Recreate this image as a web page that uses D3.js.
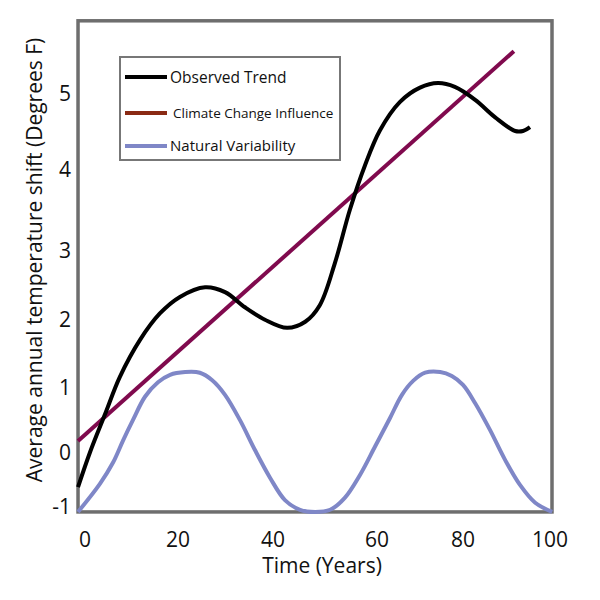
<!DOCTYPE html>
<html>
<head>
<meta charset="utf-8">
<script src="https://cdn.jsdelivr.net/npm/d3@7/dist/d3.min.js"></script>
<style>
  html, body { margin: 0; padding: 0; background: #fff; }
  svg { display: block; }
  text { font-family: "Open Sans", "DejaVu Sans", sans-serif; fill: #111; }
</style>
</head>
<body>
<script>
// ---- tick labels ----
const xTicks = [0, 20, 40, 60, 80, 100];
const yTicks = [-1, 0, 1, 2, 3, 4, 5];

// ---- series (years, degrees F) ----
const observedX = [-1.5, 1.1, 4.3, 7.5, 11.8, 16.1, 20.4, 25.7, 29.9, 34.1, 38.3, 42.7, 46.2, 49.0, 51.9, 54.8, 57.7, 60.7, 65.3, 70.0, 74.2, 78.1, 82.8, 87.4, 92.0, 93.8, 95.4];
const observedY = [-0.65, 0.00, 0.58, 1.15, 1.69, 2.08, 2.32, 2.46, 2.39, 2.17, 1.99, 1.87, 1.96, 2.20, 2.81, 3.50, 4.05, 4.51, 4.88, 5.07, 5.13, 5.08, 4.91, 4.68, 4.50, 4.50, 4.55];

const climateX = [-1.5, 91.7];
const climateY = [0.17, 5.55];

const naturalX = [-1.5, 3.2, 6.0, 8.2, 10.3, 12.9, 15.7, 18.3, 21.5, 24.6, 27.2, 29.9, 33.05, 36.2, 39.4, 42.3, 45.2, 48.1, 51.0, 53.8, 56.7, 59.6, 63.0, 65.8, 68.4, 71.2, 74.7, 77.4, 80.0, 82.8, 86.2, 89.7, 93.1, 96.6, 100.5];
const naturalY = [-1.11, -0.59, -0.20, 0.18, 0.49, 0.85, 1.07, 1.18, 1.22, 1.21, 1.10, 0.88, 0.49, 0.03, -0.48, -0.89, -1.07, -1.11, -1.07, -0.85, -0.43, 0.08, 0.52, 0.88, 1.09, 1.21, 1.22, 1.16, 1.03, 0.75, 0.34, -0.15, -0.61, -0.94, -1.11];

const seriesNames = ["Observed Trend", "Climate Change Influence", "Natural Variability"];
const lineColors = ["#000000", "#800a4e", "#7f87c7"];
const legendColors = ["#000000", "#8a2a14", "#7f87c7"];

const xDomainMin = -1.5, xDomainMax = 100.46;
const yDomainMin = -1.11, yDomainMax = 5.95;

const W = 600, H = 600;
const svg = d3.select("body").append("svg").attr("width", W).attr("height", H);

// hand-drawn axis: labels were placed unevenly, so piecewise-linear scales
const x = d3.scaleLinear().domain(xTicks).range([85, 178, 273, 377, 463, 550]);
const y = d3.scaleLinear().domain(yTicks).range([506, 452, 387, 319, 250, 169, 93]);

const fx0 = x(xDomainMin), fx1 = x(xDomainMax);
const fy0 = y(yDomainMax), fy1 = y(yDomainMin);

// frame
svg.append("rect")
  .attr("x", fx0).attr("y", fy0)
  .attr("width", fx1 - fx0).attr("height", fy1 - fy0)
  .attr("fill", "none").attr("stroke", "#6e6e6e").attr("stroke-width", 3.5);

// lines
const line = d3.line().x(d => x(d[0])).y(d => y(d[1])).curve(d3.curveCatmullRom.alpha(0.5));
const zip = (a, b) => a.map((v, i) => [v, b[i]]);

svg.append("path").datum(zip(naturalX, naturalY))
  .attr("d", line).attr("fill", "none")
  .attr("stroke", lineColors[2]).attr("stroke-width", 4);
svg.append("path").datum(zip(climateX, climateY))
  .attr("d", d3.line().x(d => x(d[0])).y(d => y(d[1])))
  .attr("fill", "none").attr("stroke", lineColors[1]).attr("stroke-width", 4);
svg.append("path").datum(zip(observedX, observedY))
  .attr("d", line).attr("fill", "none")
  .attr("stroke", lineColors[0]).attr("stroke-width", 4);

// x tick labels
svg.append("g").selectAll("text").data(xTicks).join("text")
  .attr("x", d => x(d)).attr("y", 547)
  .attr("text-anchor", "middle").attr("font-size", 21)
  .text(d => d);

// y tick labels
svg.append("g").selectAll("text").data(yTicks).join("text")
  .attr("x", 71).attr("y", d => y(d) + 7.5)
  .attr("text-anchor", "end").attr("font-size", 21)
  .text(d => d);

// axis titles
svg.append("text").attr("x", 322).attr("y", 573)
  .attr("text-anchor", "middle").attr("font-size", 21)
  .text("Time (Years)");
svg.append("text")
  .attr("transform", "translate(42,260) rotate(-90)")
  .attr("text-anchor", "middle").attr("font-size", 21)
  .text("Average annual temperature shift (Degrees F)");

// legend
const lg = svg.append("g");
lg.append("rect").attr("x", 120).attr("y", 57).attr("width", 220).attr("height", 103)
  .attr("fill", "#fff").attr("stroke", "#777").attr("stroke-width", 2);
const legendY = [77, 113, 146];
const legendFont = [15.5, 13.5, 15];
const legendTextX = [170, 173, 170];
seriesNames.forEach((name, i) => {
  lg.append("line").attr("x1", 125).attr("x2", 167)
    .attr("y1", legendY[i]).attr("y2", legendY[i])
    .attr("stroke", legendColors[i]).attr("stroke-width", 4);
  lg.append("text").attr("x", legendTextX[i]).attr("y", legendY[i] + legendFont[i] * 0.36)
    .attr("font-size", legendFont[i]).text(name);
});
</script>
</body>
</html>
